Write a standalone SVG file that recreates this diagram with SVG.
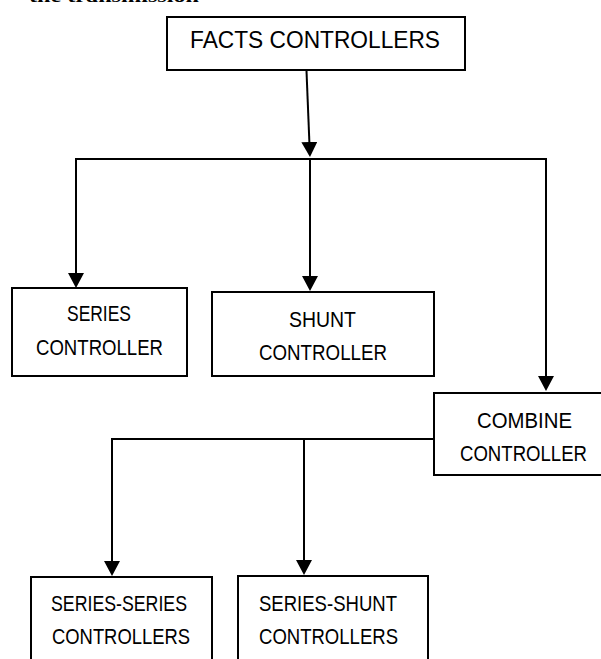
<svg xmlns="http://www.w3.org/2000/svg" width="601" height="659" viewBox="0 0 601 659">
<style>
.box{fill:#fff;stroke:#000;stroke-width:2}
.lbl{font-family:"Liberation Sans",Arial,sans-serif;font-size:21.5px;fill:#000}
.big{font-size:23.5px}
.ln{fill:none;stroke:#000;stroke-width:2}
.arr{marker-end:url(#ah)}
</style>
<defs>
<marker id="ah" markerUnits="userSpaceOnUse" markerWidth="15" markerHeight="16" refX="13" refY="8" orient="auto" viewBox="0 0 15 16">
<path d="M0,0 L15,8 L0,16 z" fill="#000"/>
</marker>
</defs>
<rect width="601" height="659" fill="#fff"/>
<text x="29" y="2" font-family="Liberation Serif,serif" font-weight="bold" font-size="18" textLength="170" lengthAdjust="spacingAndGlyphs">the transmission</text>
<g id="connectors">
<path class="ln arr" d="M306.5,71 L309.9,155"/>
<path class="ln" d="M75,159 L547,159"/>
<path class="ln arr" d="M76,159 L76,286"/>
<path class="ln arr" d="M310,159 L310,289"/>
<path class="ln arr" d="M546,159 L546,389"/>
<path class="ln" d="M434,439 L111,439"/>
<path class="ln arr" d="M112,439 L112,574"/>
<path class="ln arr" d="M304,439 L304,573"/>
</g>
<g id="facts">
<rect class="box" x="167" y="17" width="298" height="53"/>
<text class="lbl big" x="190" y="48" textLength="250" lengthAdjust="spacingAndGlyphs">FACTS CONTROLLERS</text>
</g>
<g id="series">
<rect class="box" x="12" y="288" width="175" height="88"/>
<text class="lbl" x="67" y="321" textLength="64" lengthAdjust="spacingAndGlyphs">SERIES</text>
<text class="lbl" x="36" y="355" textLength="127" lengthAdjust="spacingAndGlyphs">CONTROLLER</text>
</g>
<g id="shunt">
<rect class="box" x="212" y="292" width="222" height="84"/>
<text class="lbl" x="289" y="327" textLength="67" lengthAdjust="spacingAndGlyphs">SHUNT</text>
<text class="lbl" x="259" y="360" textLength="128" lengthAdjust="spacingAndGlyphs">CONTROLLER</text>
</g>
<g id="combine">
<rect class="box" x="434" y="393" width="169" height="82"/>
<text class="lbl" x="477" y="428" textLength="95" lengthAdjust="spacingAndGlyphs">COMBINE</text>
<text class="lbl" x="460" y="461" textLength="127" lengthAdjust="spacingAndGlyphs">CONTROLLER</text>
</g>
<g id="series-series">
<rect class="box" x="31" y="577" width="181" height="95"/>
<text class="lbl" x="51" y="611" textLength="136" lengthAdjust="spacingAndGlyphs">SERIES-SERIES</text>
<text class="lbl" x="52" y="644" textLength="138" lengthAdjust="spacingAndGlyphs">CONTROLLERS</text>
</g>
<g id="series-shunt">
<rect class="box" x="238" y="576" width="190" height="96"/>
<text class="lbl" x="259" y="611" textLength="138" lengthAdjust="spacingAndGlyphs">SERIES-SHUNT</text>
<text class="lbl" x="259" y="644" textLength="139" lengthAdjust="spacingAndGlyphs">CONTROLLERS</text>
</g>
</svg>
